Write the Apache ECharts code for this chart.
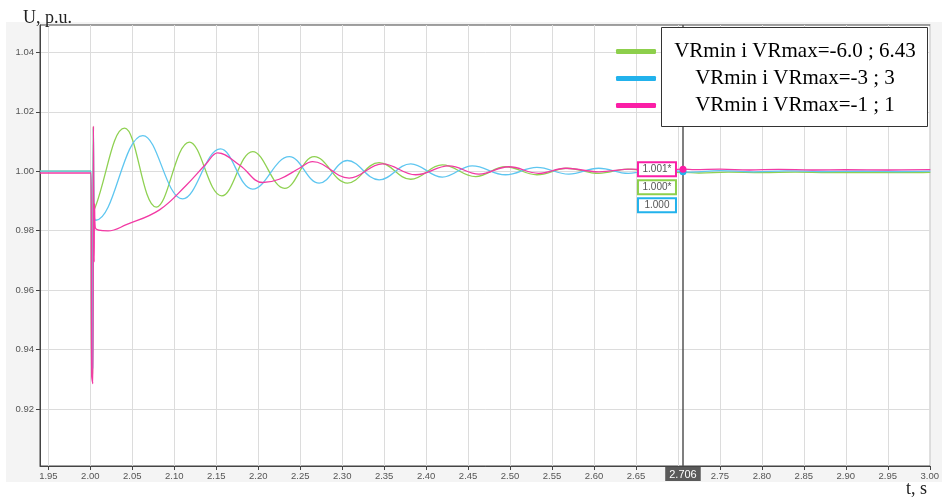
<!DOCTYPE html>
<html><head><meta charset="utf-8">
<script src="https://cdn.jsdelivr.net/npm/echarts@6/dist/echarts.min.js"></script>
<style>
html,body{margin:0;padding:0;background:#fff;}
#bg{position:absolute;left:6px;top:22px;right:0;height:460px;background:#f4f4f4;}
#c{position:absolute;left:0;top:0;width:942px;height:498px;}
</style></head><body>
<div id="bg"></div><div id="c"></div>
<script>
// ---- data ----
const seriesNames = ['VRmin i VRmax=-6.0 ; 6.43', 'VRmin i VRmax=-3 ; 3', 'VRmin i VRmax=-1 ; 1'];

const tGreen = [1.94, 2.0007, 2.0015, 2.0025, 2.0035, 2.0045, 2.0060, 2.0408, 2.0785, 2.1180, 2.1565, 2.1934, 2.2315, 2.2667, 2.3063, 2.3440, 2.3817, 2.4193, 2.4590, 2.4946, 2.5320, 2.5680, 2.6056, 2.6405, 2.6780, 2.7060, 2.7250, 2.7600, 2.8000, 2.8400, 2.8800, 2.9300, 2.9700, 3.0007];
const vGreen = [1.0000, 1.0000, 0.9310, 0.9320, 1.0150, 0.9870, 0.9880, 1.0145, 0.9879, 1.0098, 0.9917, 1.0066, 0.9942, 1.0049, 0.9960, 1.0029, 0.9973, 1.0021, 0.9982, 1.0015, 0.9988, 1.0010, 0.9993, 1.0007, 0.9994, 0.9996, 0.9994, 0.9997, 0.9995, 0.9997, 0.9995, 0.9996, 0.9995, 0.9996];

const tBlue = [1.94, 2.0008, 2.0018, 2.0028, 2.0036, 2.0046, 2.0065, 2.0625, 2.1100, 2.1550, 2.1934, 2.2370, 2.2726, 2.3063, 2.3440, 2.3817, 2.4193, 2.4550, 2.4946, 2.5320, 2.5700, 2.6056, 2.6410, 2.6780, 2.7060, 2.7150, 2.7500, 2.7900, 2.8300, 2.8700, 2.9200, 2.9600, 3.0007];
const vBlue = [1.0000, 1.0000, 0.9330, 0.9340, 1.0145, 0.9850, 0.9835, 1.0120, 0.9907, 1.0075, 0.9940, 1.0049, 0.9960, 1.0036, 0.9971, 1.0025, 0.9980, 1.0018, 0.9988, 1.0013, 0.9990, 1.0010, 0.9993, 1.0007, 0.9998, 0.9997, 1.0002, 0.9998, 1.0001, 0.9999, 1.0000, 0.9999, 1.0000];

const tPink = [1.94, 2.0007, 2.0016, 2.0030, 2.0037, 2.0045, 2.0050, 2.0058, 2.0210, 2.0428, 2.0824, 2.1140, 2.1380, 2.1517, 2.1780, 2.2053, 2.2250, 2.2490, 2.2647, 2.3083, 2.3480, 2.3876, 2.4270, 2.4630, 2.4986, 2.5340, 2.5660, 2.6056, 2.6450, 2.6800, 2.7060, 2.7200, 2.7500, 2.7850, 2.8200, 2.8600, 2.9000, 2.9500, 3.0007];
const vPink = [0.9994, 0.9994, 0.9310, 0.9285, 1.0152, 0.9695, 0.9890, 0.9810, 0.9799, 0.9820, 0.9870, 0.9952, 1.0025, 1.0062, 1.0020, 0.9962, 0.9973, 1.0010, 1.0032, 0.9977, 1.0025, 0.9988, 1.0018, 0.9990, 1.0015, 0.9993, 1.0010, 0.9998, 1.0007, 1.0003, 1.0007, 1.0005, 1.0007, 1.0004, 1.0006, 1.0004, 1.0005, 1.0004, 1.0005];

const xTicks = [1.95, 2.00, 2.05, 2.10, 2.15, 2.20, 2.25, 2.30, 2.35, 2.40, 2.45, 2.50, 2.55, 2.60, 2.65, 2.70, 2.75, 2.80, 2.85, 2.90, 2.95, 3.00];
const yTicks = [0.92, 0.94, 0.96, 0.98, 1.00, 1.02, 1.04];
const xRange = [1.94, 3.0007];
const yRange = [0.9008, 1.0492];

const cursorT = 2.706;
const cursorValues = [0.9996, 0.9998, 1.0007];       // green, blue, pink at cursor
const cursorLabels = ['1.000*', '1.000', '1.001*'];  // green, blue, pink

// ---- styles ----
const lineColors = ['#8fd152', '#5ec6f0', '#f23aa4'];
const legendColors = ['#8dcf4c', '#22b2ec', '#fb1ea6'];
const serif = '"Liberation Serif", "Times New Roman", serif';
const sans = '"Liberation Sans", Arial, sans-serif';

function pairs(t, v) { return t.map((x, i) => [x, v[i]]); }

const chart = echarts.init(document.getElementById('c'), null, {renderer: 'canvas'});

const mkSeries = (i, t, v, extra) => Object.assign({
  name: seriesNames[i],
  type: 'line',
  data: pairs(t, v),
  showSymbol: false,
  smooth: 0.4,
  color: lineColors[i],
  lineStyle: {width: 1.3, color: lineColors[i]},
  emphasis: {disabled: true},
  animation: false
}, extra || {});

chart.setOption({
  animation: false,
  grid: {left: 40, right: 10, top: 25, bottom: 32, show: true, backgroundColor: '#fff', borderColor: '#444', borderWidth: 1},
  legend: {
    orient: 'vertical', left: 616, top: 41, padding: 0, itemGap: 6,
    itemWidth: 40, itemHeight: 5, icon: 'roundRect', selectedMode: false, z: 10,
    data: seriesNames.map((n, i) => ({name: n, itemStyle: {color: legendColors[i]}})),
    formatter: n => '{a|' + n + '}',
    textStyle: {rich: {a: {width: 268, align: 'center', fontFamily: serif, fontSize: 21, lineHeight: 24, color: '#000'}}}
  },
  xAxis: {
    type: 'value', min: xRange[0], max: xRange[1],
    axisLine: {show: true, onZero: false, lineStyle: {color: '#444', width: 1}},
    axisTick: {show: true, length: 4, customValues: xTicks, lineStyle: {color: '#444'}},
    axisLabel: {customValues: xTicks, formatter: v => v.toFixed(2), fontSize: 9.5, color: '#555', fontFamily: sans, margin: 5},
    splitLine: {show: true, lineStyle: {color: '#dcdcdc', width: 1}}
  },
  yAxis: {
    type: 'value', min: yRange[0], max: yRange[1],
    axisLine: {show: true, onZero: false, lineStyle: {color: '#444', width: 1}},
    axisTick: {show: true, length: 4, customValues: yTicks, lineStyle: {color: '#444'}},
    axisLabel: {customValues: yTicks, formatter: v => v.toFixed(2), fontSize: 9.5, color: '#555', fontFamily: sans, margin: 6},
    splitLine: {show: true, lineStyle: {color: '#dcdcdc', width: 1}}
  },
  series: [
    mkSeries(0, tGreen, vGreen),
    mkSeries(1, tBlue, vBlue, {
      markPoint: {silent: true, animation: false, symbol: 'circle', symbolSize: 7, itemStyle: {color: legendColors[1]}, label: {show: false},
        data: [{coord: [cursorT, cursorValues[1]]}]}
    }),
    mkSeries(2, tPink, vPink, {
      markPoint: {silent: true, animation: false, symbol: 'circle', symbolSize: 7, itemStyle: {color: legendColors[2]}, label: {show: false},
        data: [{coord: [cursorT, cursorValues[2]]}]},
      markLine: {
        silent: true, animation: false, symbol: ['none', 'none'],
        lineStyle: {color: '#555', width: 1.5, type: 'solid'},
        label: {show: true, position: 'start', formatter: () => cursorT.toFixed(3), backgroundColor: '#5a5a5a', color: '#fff',
          padding: [2, 4, 1, 4], fontSize: 11, fontFamily: sans, distance: 1},
        emphasis: {disabled: true},
        data: [[{coord: [cursorT, yRange[0]]}, {coord: [cursorT, yRange[1]]}]]
      }
    })
  ]
});

// annotation boxes next to the cursor, placed from the chart's own scales
const p = chart.convertToPixel({gridIndex: 0}, [cursorT, cursorValues[2]]);
const boxOrder = [2, 0, 1]; // pink, green, blue
const gfx = [
  {type: 'rect', z: 5, shape: {x: 661.5, y: 27.5, width: 266, height: 99}, style: {fill: '#fff', stroke: '#333', lineWidth: 1}},
  {type: 'text', z: 5, style: {x: 23, y: 18, text: 'U, p.u.', font: '18px ' + serif, fill: '#222', verticalAlign: 'middle'}},
  {type: 'text', z: 5, style: {x: 906, y: 489, text: 't, s', font: '18px ' + serif, fill: '#222', verticalAlign: 'middle'}}
];
boxOrder.forEach((si, k) => {
  const bx = p[0] - 45, by = p[1] - 7 + k * 18;
  gfx.push({type: 'rect', z: 8, shape: {x: bx, y: by, width: 38, height: 14}, style: {fill: '#fff', stroke: legendColors[si], lineWidth: 2}});
  gfx.push({type: 'text', z: 9, style: {x: bx + 19, y: by + 7.5, text: cursorLabels[si], font: '10px ' + sans, fill: '#555', align: 'center', verticalAlign: 'middle'}});
});
chart.setOption({graphic: gfx});
</script>
</body></html>
